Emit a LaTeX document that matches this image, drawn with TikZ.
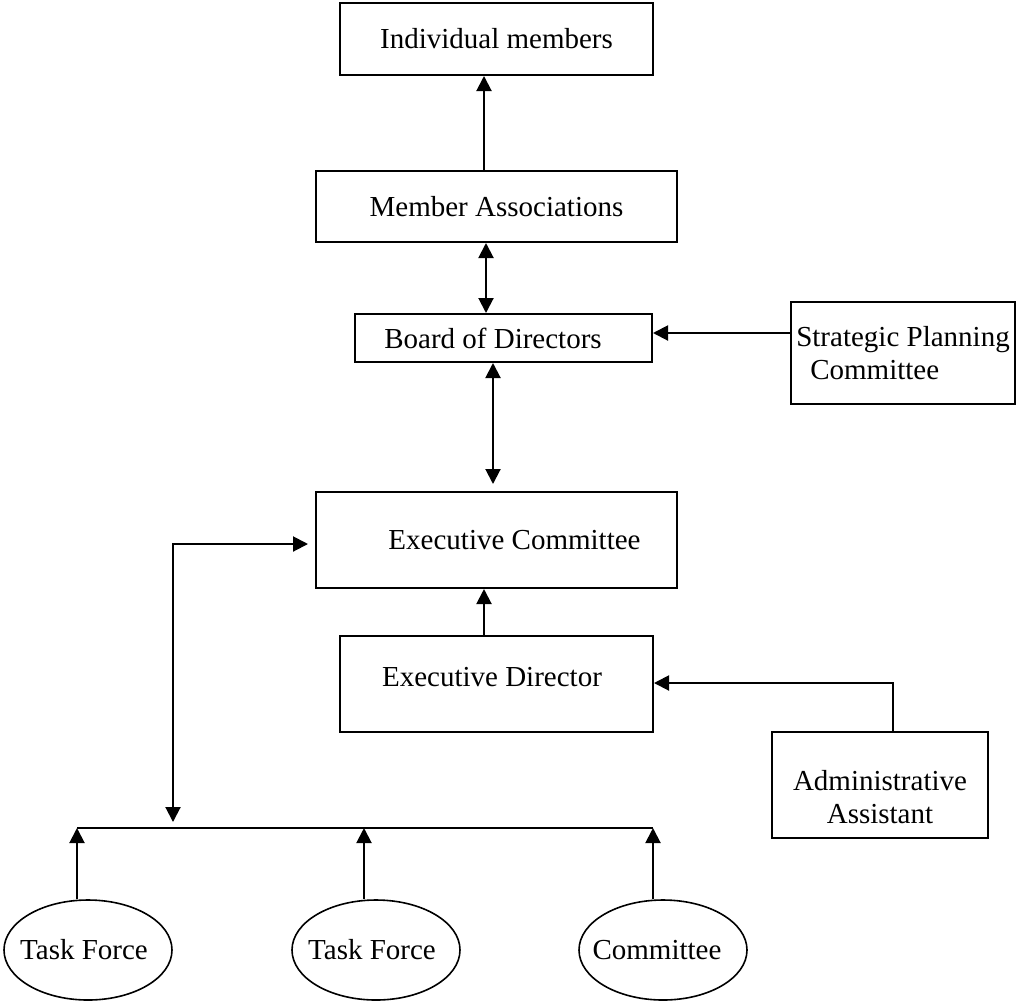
\documentclass[tikz,border=0pt]{standalone}
\usepackage{fontspec}
\setmainfont{Liberation Serif}
\usetikzlibrary{arrows.meta,shapes.geometric}
\begin{document}
\begin{tikzpicture}[x=1pt,y=-1pt,
  box/.style={draw, line width=2pt, rectangle, inner sep=0pt, font=\fontsize{29}{33}\selectfont},
  ell/.style={draw, line width=1.6pt, ellipse, inner sep=0pt, minimum width=168pt, minimum height=100pt, font=\fontsize{29}{33}\selectfont},
  conn/.style={line width=2pt},
  arr/.style={conn, -{Triangle[length=15pt,width=15pt]}},
  darr/.style={conn, {Triangle[length=15pt,width=15pt]}-{Triangle[length=15pt,width=15pt]}}
]
\useasboundingbox (0,0) rectangle (1016,1002);

% boxes
\node[box, minimum width=313pt, minimum height=72pt] (im) at (496.5,39) {Individual members};
\node[box, minimum width=361pt, minimum height=71pt] (ma) at (496.5,206.5) {Member Associations};
\node[box, minimum width=297pt, minimum height=48pt] (bd) at (503.5,338) {\hspace*{-21pt}Board of Directors};
\node[box, minimum width=224pt, minimum height=102pt, align=left] (spc) at (903,353) {Strategic Planning\\\hspace*{14pt}Committee};
\node[box, minimum width=361pt, minimum height=96pt] (ec) at (496.5,540) {\hspace*{36pt}Executive Committee};
\node[box, minimum width=313pt, minimum height=96pt] (ed) at (496.5,684) {\raisebox{-2.5pt}[0pt][0pt]{\hspace*{-9pt}Executive Director}};
\node[box, minimum width=216pt, minimum height=106pt, align=center] (aa) at (880,785) {\rule{0pt}{44pt}Administrative\\Assistant};

% ellipses
\node[ell] (t1) at (88,950) {\makebox[0pt]{\hspace*{-8pt}Task Force}};
\node[ell] (t2) at (376,950) {\makebox[0pt]{\hspace*{-8pt}Task Force}};
\node[ell] (t3) at (663,950) {\makebox[0pt]{\hspace*{-12pt}Committee}};

% helper coordinates
\coordinate (xa) at (484,0);
\coordinate (xm) at (486,0);
\coordinate (xb) at (493,0);
\coordinate (xe) at (484,0);
\coordinate (xc) at (893,0);
\coordinate (ys) at (0,333);
\coordinate (ya) at (0,683);
\coordinate (b1) at (77,828);
\coordinate (b2) at (364,828);
\coordinate (b3) at (653,828);
\coordinate (bl) at (173,828);

% connectors
\draw[arr] (ma.north -| xa) -- (im.south -| xa);
\draw[darr] (ma.south -| xm) -- (bd.north -| xm);
\draw[arr] (spc.west |- ys) -- (bd.east |- ys);
\draw[darr, shorten >=7pt] (bd.south -| xb) -- (ec.north -| xb);
\draw[arr] (ed.north -| xe) -- (ec.south -| xe);
\draw[arr] (aa.north -| xc) |- (ed.east |- ya);

% bus
\draw[conn] (b1) -- (b3);
\draw[arr] (t1.north -| b1) -- (b1);
\draw[arr] (t2.north -| b2) -- (b2);
\draw[arr] (t3.north -| b3) -- (b3);
\draw[darr, shorten <=6pt, shorten >=7pt] (bl) |- ([yshift=-4pt]ec.west);
\end{tikzpicture}
\end{document}
